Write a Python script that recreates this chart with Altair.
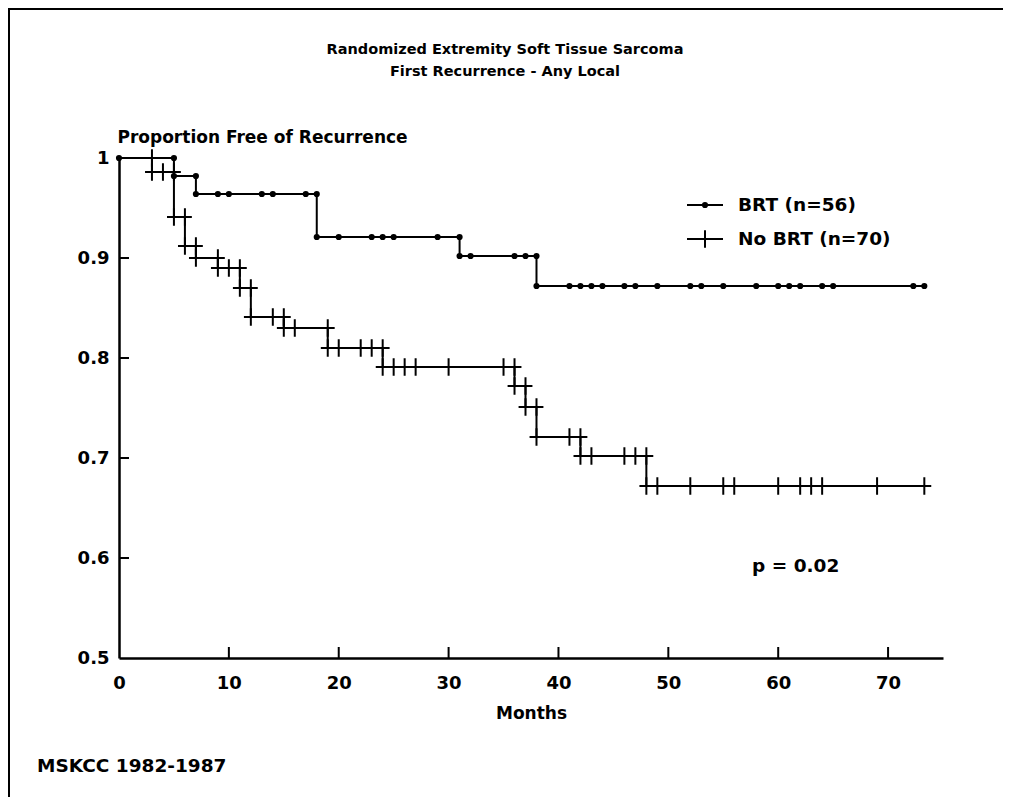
import altair as alt
import pandas as pd

# ---- data ----
brt_event_times = [5, 7, 18, 31, 38]
brt_event_surv = [0.982, 0.964, 0.921, 0.902, 0.872]
brt_censor_times = [0, 9, 10, 13, 14, 17, 20, 23, 24, 25, 29, 32, 36, 37,
                    41, 42, 43, 44, 46, 47, 49, 52, 53, 55, 58, 60, 61, 62,
                    64, 65, 72.3, 73.3]

nobrt_event_times = [3, 5, 6, 7, 9, 11, 12, 15, 19, 24, 36, 37, 38, 42, 48]
nobrt_event_surv = [0.986, 0.941, 0.912, 0.900, 0.890, 0.870, 0.841, 0.830,
                    0.810, 0.791, 0.772, 0.751, 0.721, 0.702, 0.672]
nobrt_censor_times = [4, 10, 14, 16, 20, 22, 23, 25, 26, 27, 30, 35, 41, 43,
                      46, 47, 49, 52, 55, 56, 60, 62, 63, 64, 69, 73.3]

x_tick_values = [0, 10, 20, 30, 40, 50, 60, 70]
y_tick_values = [0.5, 0.6, 0.7, 0.8, 0.9, 1.0]
x_inner_ticks = [10, 20, 30, 40, 50, 60, 70]
y_inner_ticks = [0.6, 0.7, 0.8, 0.9]

title_lines = ["Randomized Extremity Soft Tissue Sarcoma", "First Recurrence - Any Local"]
legend_labels = ["BRT (n=56)", "No BRT (n=70)"]


def build(group, ev_t, ev_s, cen_t):
    last_t = max(list(cen_t) + list(ev_t))
    line_rows = [(group, 0.0, 1.0)] + [(group, t, s) for t, s in zip(ev_t, ev_s)] + [(group, last_t, ev_s[-1])]
    mark_rows = []
    prev = 1.0
    for t, s in zip(ev_t, ev_s):
        mark_rows.append((group, t, prev))
        mark_rows.append((group, t, s))
        prev = s
    for c in cen_t:
        s = 1.0
        for t, sv in zip(ev_t, ev_s):
            if t <= c:
                s = sv
        mark_rows.append((group, c, s))
    return line_rows, mark_rows


l1, m1 = build("BRT", brt_event_times, brt_event_surv, brt_censor_times)
l2, m2 = build("NoBRT", nobrt_event_times, nobrt_event_surv, nobrt_censor_times)
line_df = pd.DataFrame(l1 + l2, columns=["group", "t", "s"])
mark_df = pd.DataFrame(m1 + m2, columns=["group", "t", "s"])
one = pd.DataFrame({"k": [0]})

W, H = 824, 500
FONT = "DejaVu Sans"
CROSS = "M-0.8,0H0.8M0,-1V1"

x_scale = alt.Scale(domain=[0, 75], nice=False, zero=False)
y_scale = alt.Scale(domain=[0.5, 1.0], nice=False, zero=False)

x_axis = alt.Axis(values=x_tick_values, ticks=False, grid=False, domainColor="black",
                  domainWidth=2.5, labelFont=FONT, labelFontSize=18, labelFontWeight="bold",
                  labelColor="black", labelPadding=16, labelFlush=False,
                  title="Months", titleFont=FONT, titleFontSize=17, titleFontWeight="bold",
                  titleColor="black", titlePadding=13)
y_axis = alt.Axis(values=y_tick_values, ticks=False, grid=False, domainColor="black",
                  domainWidth=2.5, labelFont=FONT, labelFontSize=18, labelFontWeight="bold",
                  labelColor="black", labelPadding=10, labelFlush=False,
                  labelExpr="datum.value == 1 ? '1' : format(datum.value, '.1f')",
                  title="Proportion Free of Recurrence", titleFont=FONT, titleFontSize=17,
                  titleFontWeight="bold", titleColor="black", titleAngle=0, titleAlign="left",
                  titleBaseline="alphabetic", titleX=-2, titleY=-16)

xe = lambda f: alt.X(f, scale=x_scale, axis=x_axis)
ye = lambda f: alt.Y(f, scale=y_scale, axis=y_axis)

curves = alt.Chart(line_df).mark_line(interpolate="step-after", color="black", strokeWidth=2).encode(
    x=xe("t:Q"), y=ye("s:Q"), detail="group:N")

dots = alt.Chart(mark_df).transform_filter(alt.datum.group == "BRT").mark_point(
    shape="circle", filled=True, size=38, color="black", opacity=1).encode(x=xe("t:Q"), y=ye("s:Q"))

crosses = alt.Chart(mark_df).transform_filter(alt.datum.group == "NoBRT").mark_point(
    shape=CROSS, filled=False, size=300, color="black", strokeWidth=2, opacity=1).encode(
    x=xe("t:Q"), y=ye("s:Q"))

xticks = alt.Chart(pd.DataFrame({"v": x_inner_ticks})).mark_rule(color="black", strokeWidth=2).encode(
    x=xe("v:Q"), y=alt.value(H), y2=alt.value(H - 11))
yticks = alt.Chart(pd.DataFrame({"v": y_inner_ticks})).mark_rule(color="black", strokeWidth=2).encode(
    y=ye("v:Q"), x=alt.value(0), x2=alt.value(10))

def txt(text, x, y, size=18.5, align="left"):
    return alt.Chart(one).mark_text(font=FONT, fontSize=size, fontWeight="bold", color="black",
                                    align=align, baseline="middle").encode(
        x=alt.value(x), y=alt.value(y), text=alt.value(text))

def seg(x1, x2, y1, y2, w=2):
    return alt.Chart(one).mark_rule(color="black", strokeWidth=w).encode(
        x=alt.value(x1), x2=alt.value(x2), y=alt.value(y1), y2=alt.value(y2))

legend = [
    seg(568, 604, 47, 47),
    alt.Chart(one).mark_point(shape="circle", filled=True, size=38, color="black", opacity=1).encode(
        x=alt.value(586), y=alt.value(47)),
    txt(legend_labels[0], 619, 47),
    seg(568, 604, 81, 81),
    alt.Chart(one).mark_point(shape=CROSS, filled=False, size=300, color="black", strokeWidth=2,
                              opacity=1).encode(x=alt.value(586), y=alt.value(81)),
    txt(legend_labels[1], 619, 81),
]

annotations = [
    txt(title_lines[0], 386, -108, size=14.5, align="center"),
    txt(title_lines[1], 386, -86, size=14.5, align="center"),
    txt("p = 0.02", 633, 408),
    txt("MSKCC 1982-1987", -82, 608),
    seg(-110, -110, -150, 639),
    seg(-111, 884, -149, -149),
]

chart = alt.layer(curves, dots, crosses, xticks, yticks, *legend, *annotations).properties(
    width=W, height=H,
    autosize=alt.AutoSizeParams(type="none"),
    padding={"left": 111, "top": 150, "right": 60, "bottom": 139},
    background="white",
).configure_view(stroke=None)

chart.save("out.html", embed_options={"renderer": "svg", "actions": False})
